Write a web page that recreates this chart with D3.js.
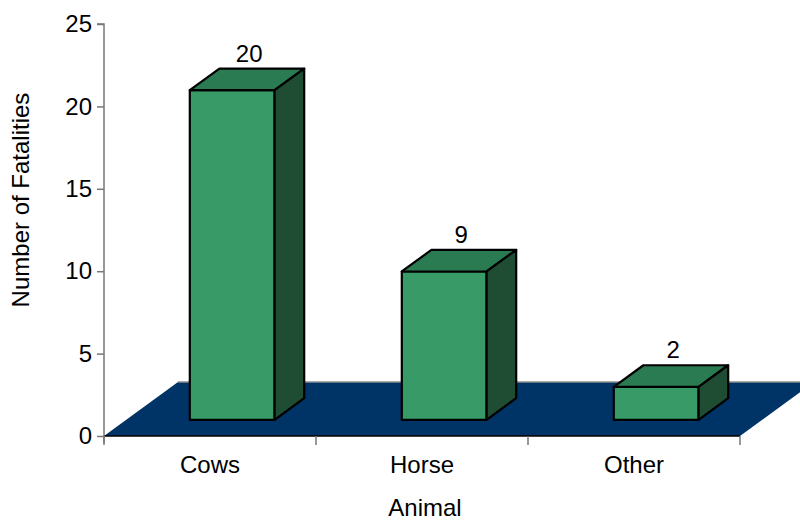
<!DOCTYPE html>
<html>
<head>
<meta charset="utf-8">
<script src="https://cdn.jsdelivr.net/npm/d3@7"></script>
<style>
  html, body { margin: 0; padding: 0; background: #fff; }
  svg { display: block; }
  text { font-family: "Liberation Sans", Arial, sans-serif; fill: #000; }
</style>
</head>
<body>
<svg id="chart" width="800" height="523"></svg>
<script>
// ---- data ----
const categories = ["Cows", "Horse", "Other"];
const fatalities = [20, 9, 2];
const yTicks = [0, 5, 10, 15, 20, 25];
const yTitle = "Number of Fatalities";
const xTitle = "Animal";

(function () {
// ---- layout ----
const svg = d3.select("#chart");
const plotLeft = 104, plotRight = 740, plotTop = 24, plotBase = 436;
const depthX = 74, depthY = -54;       // floor depth offset
const barFront = 0.3, barBack = 0.7;   // bar position within depth
const barWidthFrac = 0.4;

const x = d3.scaleBand().domain(categories).range([plotLeft, plotRight]).paddingInner(0).paddingOuter(0);
const y = d3.scaleLinear().domain([0, 25]).range([plotBase, plotTop]);

const fontSize = 24;
const fontFam = '"Liberation Sans", Arial, sans-serif';

// floor
const floor = [[plotLeft, plotBase], [plotRight, plotBase], [plotRight + depthX, plotBase + depthY], [plotLeft + depthX, plotBase + depthY]];
svg.append("path")
  .attr("d", d3.line()(floor) + "Z")
  .attr("fill", "#003366");
// back edge (gray)
svg.append("line")
  .attr("x1", plotLeft + depthX).attr("x2", plotRight + depthX)
  .attr("y1", plotBase + depthY).attr("y2", plotBase + depthY)
  .attr("stroke", "#8c8c8c").attr("stroke-width", 1.5);
// front edge (black)
svg.append("line")
  .attr("x1", plotLeft).attr("x2", plotRight)
  .attr("y1", plotBase).attr("y2", plotBase)
  .attr("stroke", "#000").attr("stroke-width", 1.5);

// y axis
const yAxis = svg.append("g")
  .attr("transform", `translate(${plotLeft},0)`)
  .call(d3.axisLeft(y).tickValues(yTicks).tickSize(7).tickPadding(5).tickFormat(d3.format("d")));
yAxis.select(".domain").attr("stroke", "#777").attr("stroke-width", 1.5)
  .attr("d", `M-7,${plotTop}H0V${plotBase + 7}`);
yAxis.selectAll(".tick line").attr("stroke", "#777").attr("stroke-width", 1.5);
yAxis.selectAll(".tick text").style("font-size", fontSize + "px")
  .style("font-family", fontFam).attr("fill", "#000");

// x axis boundary ticks
const boundaries = categories.map(c => x(c) + x.bandwidth()).concat([x(categories[0])]);
svg.append("g").selectAll("line").data(boundaries).join("line")
  .attr("x1", d => d).attr("x2", d => d)
  .attr("y1", plotBase).attr("y2", plotBase + 9)
  .attr("stroke", "#777").attr("stroke-width", 1.5);

// x axis labels
const xAxis = svg.append("g")
  .attr("transform", `translate(0,${plotBase})`)
  .call(d3.axisBottom(x).tickSize(0).tickPadding(20));
xAxis.select(".domain").remove();
xAxis.selectAll(".tick text").style("font-size", fontSize + "px")
  .style("font-family", fontFam).attr("fill", "#000");

// bars
const bw = x.bandwidth() * barWidthFrac;
const fx = barFront * depthX, fy = barFront * depthY;
const dx = (barBack - barFront) * depthX, dy = (barBack - barFront) * depthY;

const bars = svg.append("g").selectAll("g").data(categories.map((c, i) => ({c, v: fatalities[i]}))).join("g");
bars.each(function(d) {
  const g = d3.select(this);
  const x0 = x(d.c) + (x.bandwidth() - bw) / 2 + fx;
  const x1 = x0 + bw;
  const yb = y(0) + fy;
  const yt = y(d.v) + fy;
  const sw = 2.2;
  // front
  g.append("path").attr("d", d3.line()([[x0, yb], [x1, yb], [x1, yt], [x0, yt]]) + "Z")
    .attr("fill", "#379a67").attr("stroke", "#000").attr("stroke-width", sw).attr("stroke-linejoin", "round");
  // top
  g.append("path").attr("d", d3.line()([[x0, yt], [x1, yt], [x1 + dx, yt + dy], [x0 + dx, yt + dy]]) + "Z")
    .attr("fill", "#2a7a52").attr("stroke", "#000").attr("stroke-width", sw).attr("stroke-linejoin", "round");
  // side
  g.append("path").attr("d", d3.line()([[x1, yb], [x1 + dx, yb + dy], [x1 + dx, yt + dy], [x1, yt]]) + "Z")
    .attr("fill", "#1e4d33").attr("stroke", "#000").attr("stroke-width", sw).attr("stroke-linejoin", "round");
  // value label
  g.append("text")
    .attr("x", (x0 + x1) / 2 + 17)
    .attr("y", yt + dy - 7)
    .attr("text-anchor", "middle")
    .style("font-size", fontSize + "px")
    .text(d.v);
});

// axis titles
svg.append("text")
  .attr("transform", `translate(29,${200}) rotate(-90)`)
  .attr("text-anchor", "middle")
  .style("font-size", fontSize + "px")
  .text(yTitle);
svg.append("text")
  .attr("x", (plotLeft + plotRight) / 2 + 3)
  .attr("y", 516)
  .attr("text-anchor", "middle")
  .style("font-size", fontSize + "px")
  .text(xTitle);
})();
</script>
</body>
</html>
